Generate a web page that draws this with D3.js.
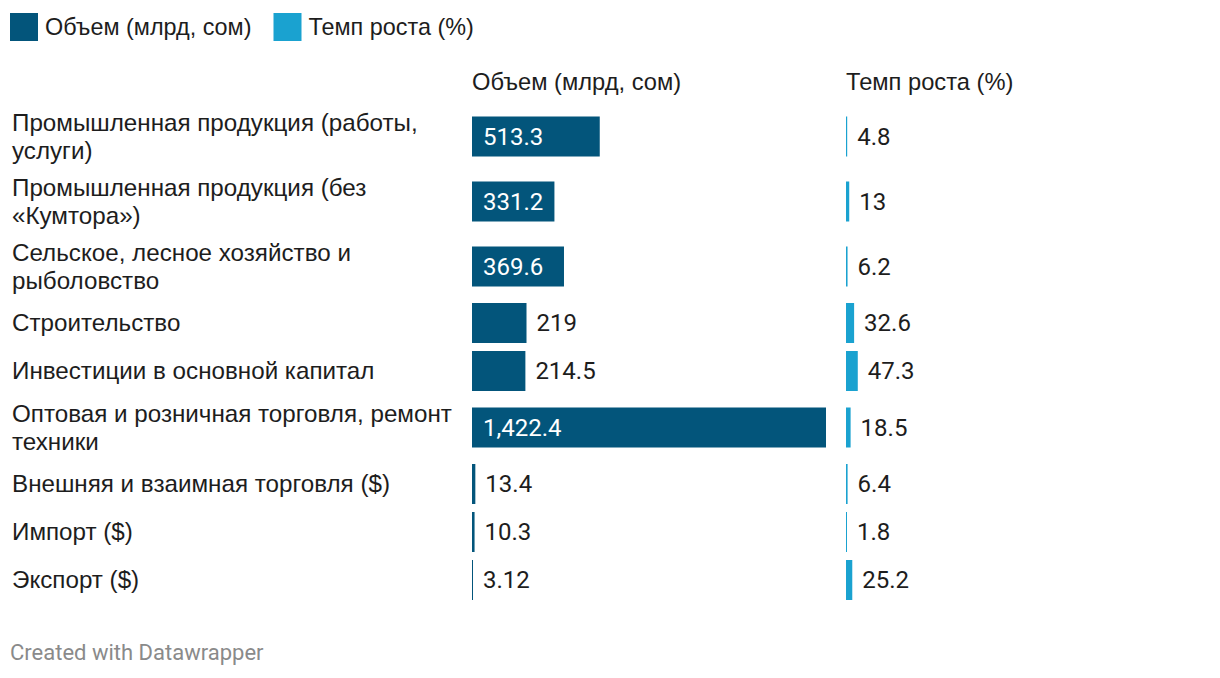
<!DOCTYPE html>
<html><head><meta charset="utf-8">
<script src="https://cdn.jsdelivr.net/npm/d3@7"></script>
<style>
html,body{margin:0;padding:0;background:#fff;}
text{font-family:Roboto, "Noto Sans", sans-serif;}
text.cy{font-family:"Liberation Sans", Arial, sans-serif;}
</style></head>
<body><svg id="chart" width="1220" height="678"></svg>
<script>
const categories = [
  "Промышленная продукция (работы,\nуслуги)",
  "Промышленная продукция (без\n«Кумтора»)",
  "Сельское, лесное хозяйство и\nрыболовство",
  "Строительство",
  "Инвестиции в основной капитал",
  "Оптовая и розничная торговля, ремонт\nтехники",
  "Внешняя и взаимная торговля ($)",
  "Импорт ($)",
  "Экспорт ($)"
];
const volumeLabels = ["513.3","331.2","369.6","219","214.5","1,422.4","13.4","10.3","3.12"];
const volume = [513.3, 331.2, 369.6, 219, 214.5, 1422.4, 13.4, 10.3, 3.12];
const growth = [4.8, 13, 6.2, 32.6, 47.3, 18.5, 6.4, 1.8, 25.2];
const seriesNames = ["Объем (млрд, сом)", "Темп роста (%)"];
const colors = ["#03557b", "#1aa2d0"];
const footer = "Created with Datawrapper";

const svg = d3.select("#chart");
const textColor = "#1d1d1d";
const fontSize = 24;
const cyFont = 24.2;

// legend
const leg = svg.append("g");
let lx = 10;
seriesNames.forEach((n, i) => {
  leg.append("rect").attr("x", lx).attr("y", 13).attr("width", 28).attr("height", 28).attr("fill", colors[i]);
  const t = leg.append("text").attr("class", "cy").attr("x", lx + 35).attr("y", 27).attr("dy", "0.35em")
    .attr("font-size", 23.4).attr("fill", textColor).text(n);
  lx += 35 + t.node().getComputedTextLength() + 22;
});

// columns
const colX = [472, 846];
const maxW = 354;
const x = d3.scaleLinear().domain([0, d3.max(volume)]).range([0, maxW]);

seriesNames.forEach((n, i) => {
  svg.append("text").attr("class", "cy").attr("x", colX[i]).attr("y", 82).attr("dy", "0.35em")
    .attr("font-size", 23.7).attr("fill", textColor).text(n);
});

// row layout
const barH = 40, lineH = 28.5, gap = 8;
let cursor = 108;
const rows = categories.map((c, i) => {
  const lines = c.split("\n");
  const h = Math.max(barH, lines.length * lineH);
  const r = {lines, top: cursor, h, center: cursor + h / 2};
  cursor += h + gap;
  return r;
});

const g = svg.append("g");
rows.forEach((r, i) => {
  const t = g.append("text").attr("class", "cy").attr("x", 12).attr("font-size", cyFont).attr("fill", textColor);
  const n = r.lines.length;
  r.lines.forEach((ln, k) => {
    t.append("tspan").attr("x", 12)
      .attr("y", r.center + (k - (n - 1) / 2) * lineH)
      .attr("dy", "0.35em").text(ln);
  });
});

function drawSeries(values, labels, col) {
  rows.forEach((r, i) => {
    const w = Math.max(1, x(values[i]));
    const by = r.center - barH / 2;
    g.append("rect").attr("x", colX[col]).attr("y", by).attr("width", w).attr("height", barH)
      .attr("fill", colors[col]);
    const t = g.append("text").attr("y", r.center).attr("dy", "0.35em")
      .attr("font-size", fontSize).text(labels[i]);
    const tw = t.node().getComputedTextLength();
    if (tw + 22 < w) {
      t.attr("x", colX[col] + 11).attr("fill", "#fff");
    } else {
      t.attr("x", colX[col] + w + 10).attr("fill", textColor);
    }
  });
}
drawSeries(volume, volumeLabels, 0);
drawSeries(growth, growth.map(String), 1);

svg.append("text").attr("x", 10).attr("y", 652).attr("dy", "0.35em")
  .attr("font-size", 22).attr("fill", "#8a8a8a").text(footer);
</script>
</body></html>
